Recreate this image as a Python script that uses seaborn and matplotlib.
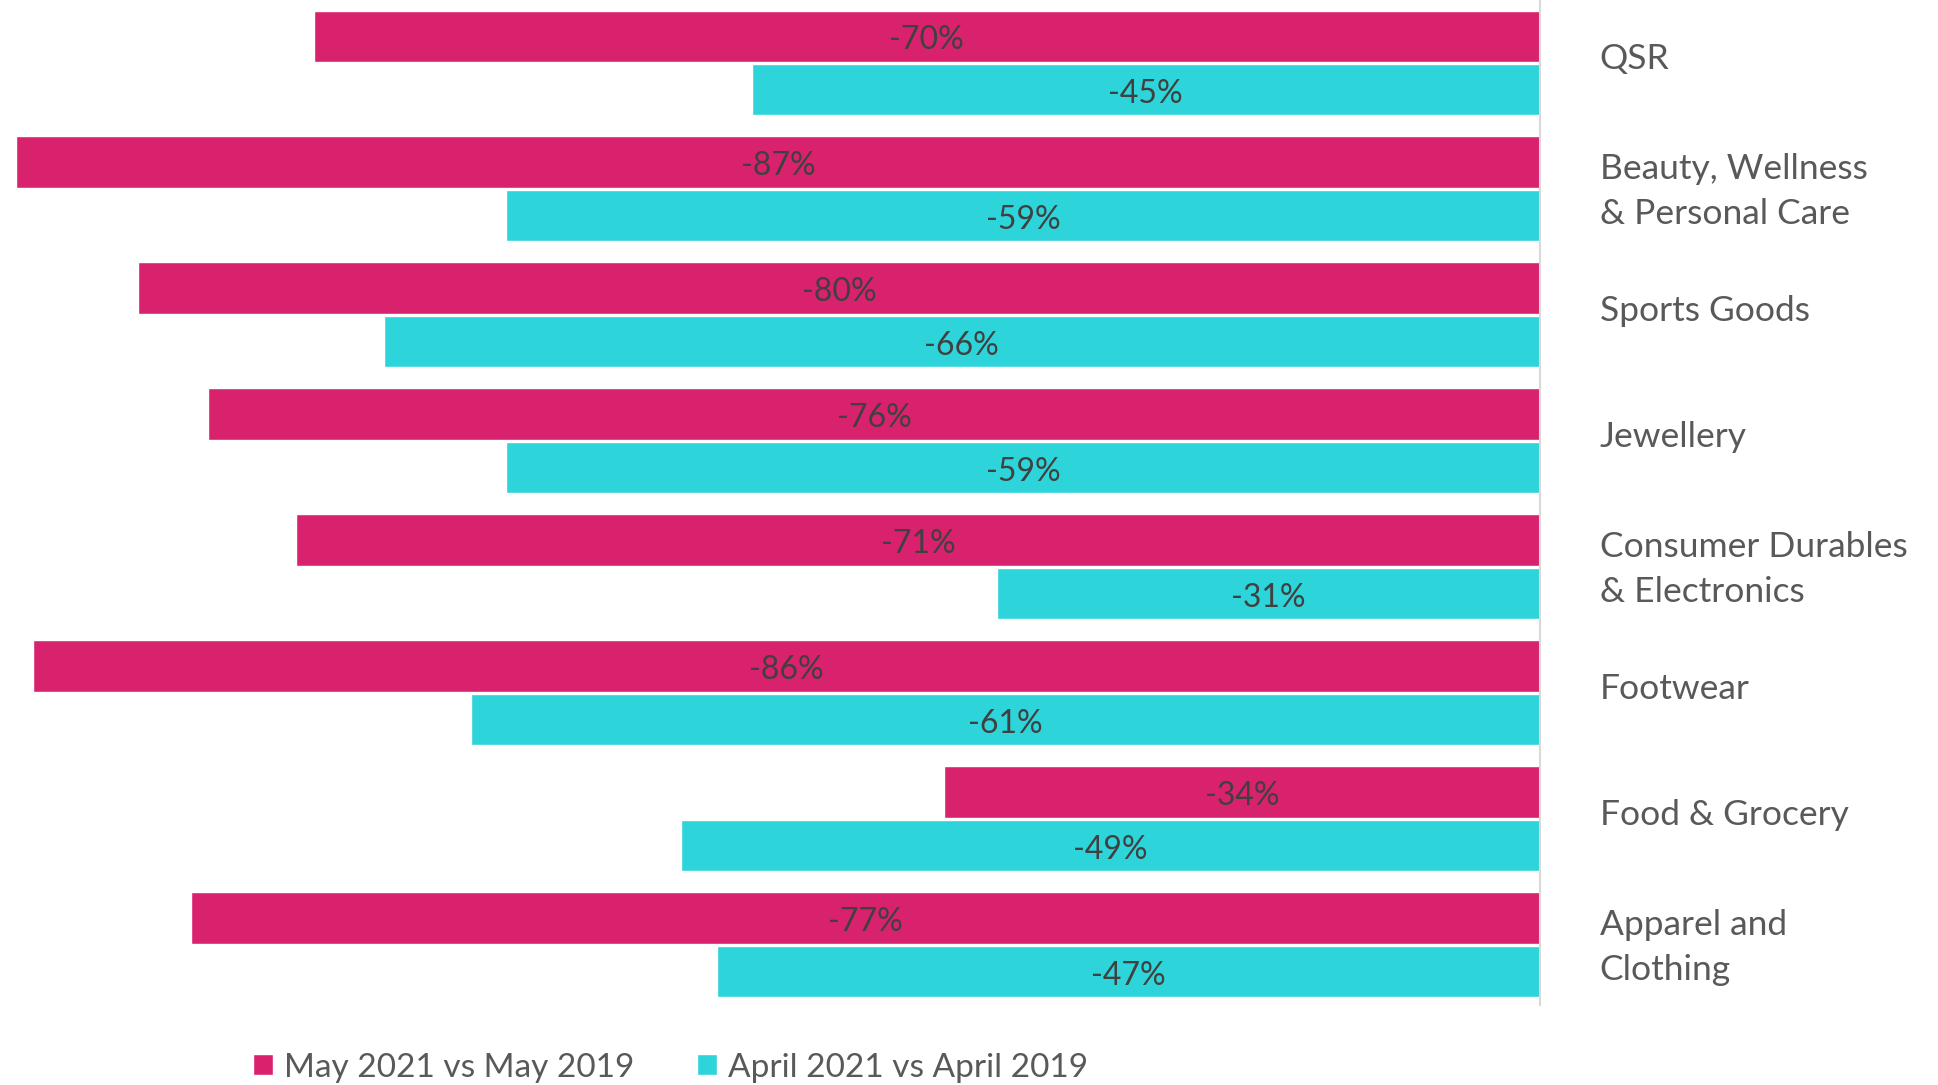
import pandas as pd
import matplotlib
matplotlib.use('Agg')
from matplotlib import pyplot as plt
from matplotlib.patches import Patch
import matplotlib.transforms as mtransforms
import seaborn as sns

# 数据
categories = ['QSR', 'Beauty, Wellness\n& Personal Care', 'Sports Goods', 'Jewellery',
              'Consumer Durables\n& Electronics', 'Footwear', 'Food & Grocery',
              'Apparel and\nClothing']
may_vals = [-70, -87, -80, -76, -71, -86, -34, -77]
april_vals = [-45, -59, -66, -59, -31, -61, -49, -47]
series_names = ['May 2021 vs May 2019', 'April 2021 vs April 2019']
colors = ['#D9226E', '#2DD4D9']

df = pd.DataFrame({
    'category': categories * 2,
    'value': may_vals + april_vals,
    'series': [series_names[0]] * len(categories) + [series_names[1]] * len(categories),
})

sns.set_style('white')
plt.rcParams['font.family'] = ['Lato', 'DejaVu Sans']

fig = plt.figure(figsize=(19.38, 10.85), dpi=100)
ax = fig.add_axes([0.0, 0.0737, 0.7946, 0.9263])

sns.barplot(data=df, y='category', x='value', hue='series', palette=colors,
            orient='h', width=0.85, gap=0.04, ax=ax, legend=False, saturation=1)

# 数值标签，稍微下移
for cont in ax.containers:
    for t in ax.bar_label(cont, fmt='{:.0f}%', label_type='center', fontsize=23, color='#404040'):
        t.xyann = (0, -3)

ax.set_xlim(-87.9, 0)
ax.set_ylim(7.48, -0.5)
ax.set_xlabel('')
ax.set_ylabel('')
ax.set_xticks([])
for s in ['top', 'bottom', 'left']:
    ax.spines[s].set_visible(False)
ax.spines['right'].set_color('#D9D9D9')
ax.spines['right'].set_linewidth(1.5)

# 类别标签放在右侧，稍微上移
ax.yaxis.tick_right()
ax.tick_params(axis='y', length=0, pad=43, labelsize=25.5, labelcolor='#595959')
up = mtransforms.ScaledTranslation(0, 5 / 72, fig.dpi_scale_trans)
for lab in ax.get_yticklabels():
    lab.set_linespacing(1.5)
    lab.set_transform(lab.get_transform() + up)

# 图例
handles = [Patch(facecolor=c, label=n) for c, n in zip(colors, series_names)]
fig.legend(handles=handles, loc='center', bbox_to_anchor=(0.346, 0.016), ncol=2,
           frameon=False, fontsize=24, labelcolor='#595959', handlelength=0.6,
           handleheight=0.6, handletextpad=0.33, columnspacing=1.9,
           borderpad=0, borderaxespad=0)

plt.savefig('out.png', dpi=100)
